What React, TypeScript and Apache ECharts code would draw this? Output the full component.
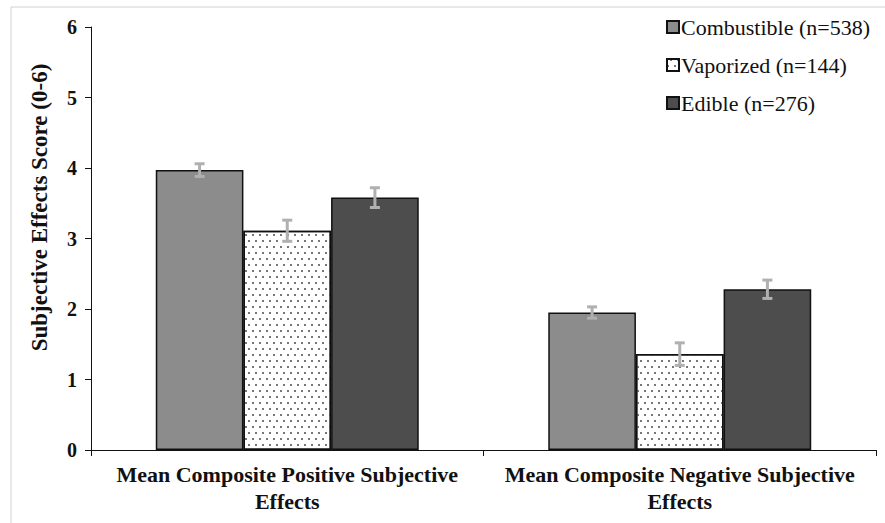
import React, { useEffect, useRef } from "react";
import * as echarts from "echarts";

const categories = ["Mean Composite Positive Subjective\nEffects", "Mean Composite Negative Subjective\nEffects"];
const seriesNames = ["Combustible (n=538)", "Vaporized (n=144)", "Edible (n=276)"];
const combustible = [3.97, 1.95];
const vaporized = [3.11, 1.36];
const edible = [3.58, 2.28];
const combustibleErr = [0.09, 0.08];
const vaporizedErr = [0.15, 0.16];
const edibleErr = [0.14, 0.13];
const yTicks = [0, 1, 2, 3, 4, 5, 6];

const FONT = "Liberation Serif";

export default function App() {
  const ref = useRef<HTMLDivElement>(null);
  useEffect(() => {
    if (!ref.current) return;
    const chart = echarts.init(ref.current, undefined, { renderer: "svg" });
    const values = [combustible, vaporized, edible];
    const errs = [combustibleErr, vaporizedErr, edibleErr];
    const errData: number[][] = [];
    values.forEach((arr, s) => arr.forEach((v, c) => errData.push([c, v, errs[s][c], s])));
    const styles = [
      { color: "#8c8c8c", borderColor: "#111", borderWidth: 1.5 },
      {
        color: "#ffffff",
        borderColor: "#111",
        borderWidth: 1.5,
        decal: {
          symbol: "rect",
          symbolSize: 1,
          color: "#777",
          backgroundColor: "#ffffff",
          dashArrayX: [[1.5, 4.5], [0, 3, 1.5, 1.5]],
          dashArrayY: [1.5, 3.5],
          rotation: 0,
        },
      },
      { color: "#4d4d4d", borderColor: "#111", borderWidth: 1.5 },
    ];
    const catGap = 0.33;
    chart.setOption({
      animation: false,
      backgroundColor: "#ffffff",
      textStyle: { fontFamily: FONT },
      graphic: [
        {
          type: "rect",
          shape: { x: 11, y: 7, width: 880, height: 520 },
          style: { fill: "none", stroke: "#d0d0d0", lineWidth: 1 },
          silent: true,
        },
      ],
      legend: {
        orient: "vertical",
        right: 10,
        top: 11,
        itemWidth: 12,
        itemHeight: 12,
        itemGap: 16,
        icon: "rect",
        textStyle: { fontFamily: FONT, fontSize: 22, color: "#111", padding: [0, 0, 0, -3] },
        data: seriesNames,
      },
      grid: { left: 91, right: 9, top: 27, bottom: 73 },
      xAxis: {
        type: "category",
        data: categories,
        axisLine: { lineStyle: { color: "#111", width: 1 } },
        axisTick: { show: true, alignWithLabel: false, length: 6, lineStyle: { color: "#111" } },
        axisLabel: {
          interval: 0,
          fontFamily: FONT,
          fontWeight: "bold",
          fontSize: 22,
          color: "#111",
          margin: 11,
          lineHeight: 27,
        },
      },
      yAxis: {
        type: "value",
        min: 0,
        max: 6,
        interval: 1,
        name: "Subjective Effects Score (0-6)",
        nameLocation: "middle",
        nameGap: 40,
        nameTextStyle: {
          fontFamily: FONT,
          fontWeight: "bold",
          fontSize: 23,
          color: "#111",
          padding: [0, 0, 0, 62],
        },
        axisLine: { show: true, lineStyle: { color: "#111", width: 1 } },
        axisTick: { show: true, length: 6, lineStyle: { color: "#111" } },
        splitLine: { show: false },
        axisLabel: {
          fontFamily: FONT,
          fontWeight: "bold",
          fontSize: 20,
          color: "#111",
          margin: 14,
          formatter: (v: number) => (yTicks.includes(v) ? String(v) : ""),
        },
      },
      series: [
        ...values.map((arr, s) => ({
          name: seriesNames[s],
          type: "bar",
          data: arr,
          barGap: "0%",
          barCategoryGap: catGap * 100 + "%",
          itemStyle: styles[s],
          emphasis: { disabled: true },
        })),
        {
          type: "custom",
          silent: true,
          z: 10,
          data: errData,
          encode: { x: 0, y: 1 },
          renderItem: (params: any, api: any) => {
            const c = api.value(0);
            const v = api.value(1);
            const e = api.value(2);
            const s = api.value(3);
            const band = api.size([1, 0])[0];
            const bw = (band * (1 - catGap)) / 3;
            const center = api.coord([c, v]);
            const x = center[0] + (s - 1) * bw;
            const top = api.coord([c, v + e])[1];
            const bot = api.coord([c, v - e])[1];
            const hw = 5;
            const st = { stroke: "#b0b0b0", lineWidth: 3 };
            return {
              type: "group",
              children: [
                { type: "line", shape: { x1: x, y1: top, x2: x, y2: bot }, style: st },
                { type: "line", shape: { x1: x - hw, y1: top, x2: x + hw, y2: top }, style: st },
                { type: "line", shape: { x1: x - hw, y1: bot, x2: x + hw, y2: bot }, style: st },
              ],
            };
          },
        },
      ],
    });
    return () => chart.dispose();
  }, []);
  return <div ref={ref} style={{ width: 885, height: 523, position: "absolute", left: 0, top: 0 }} />;
}
